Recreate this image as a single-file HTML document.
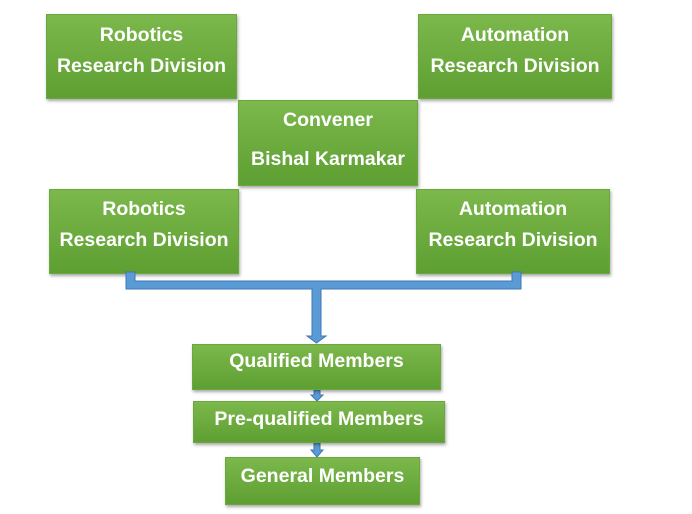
<!DOCTYPE html>
<html><head><style>
body{margin:0;width:692px;height:514px;background:#fff;position:relative;overflow:hidden;font-family:"Liberation Sans",sans-serif}
.b{position:absolute;background:linear-gradient(#7cb84c,#5e9f32);box-shadow:1px 2px 3px rgba(0,0,0,.35);color:#fff;font-weight:bold;font-size:19.5px;text-align:center;box-sizing:border-box;line-height:31px;border:1px solid #6aa83d;white-space:nowrap}
svg{position:absolute;left:0;top:0}
</style></head><body>
<div class="b" style="left:46px;top:14px;width:191px;height:85px;padding-top:5px">Robotics<br>Research Division</div>
<div class="b" style="left:418px;top:14px;width:194px;height:85px;padding-top:5px">Automation<br>Research Division</div>
<div class="b" style="left:238px;top:100px;width:180px;height:86px;padding-top:0px;line-height:39px">Convener<br>Bishal Karmakar</div>
<div class="b" style="left:49px;top:189px;width:190px;height:85px;padding-top:4px">Robotics<br>Research Division</div>
<div class="b" style="left:416px;top:189px;width:194px;height:85px;padding-top:4px">Automation<br>Research Division</div>
<svg width="692" height="514">
<g fill="#5b9bd5" stroke="#3f77b5" stroke-width="1">
<path d="M126 272 H135 V281 H512 V272 H521 V289 H321 V336 H326 L316.5 343 L307 336 H312 V289 H126 Z"/>
<path d="M314 390 H320 V395 H323 L317 401 L311 395 H314 Z"/>
<path d="M314 443 H320 V450 H323 L317 457 L311 450 H314 Z"/>
</g>
</svg>
<div class="b" style="left:192px;top:344px;width:249px;height:46px;line-height:32px">Qualified Members</div>
<div class="b" style="left:193px;top:401px;width:252px;height:42px;line-height:34px">Pre-qualified Members</div>
<div class="b" style="left:225px;top:457px;width:195px;height:48px;line-height:36px">General Members</div>
</body></html>
